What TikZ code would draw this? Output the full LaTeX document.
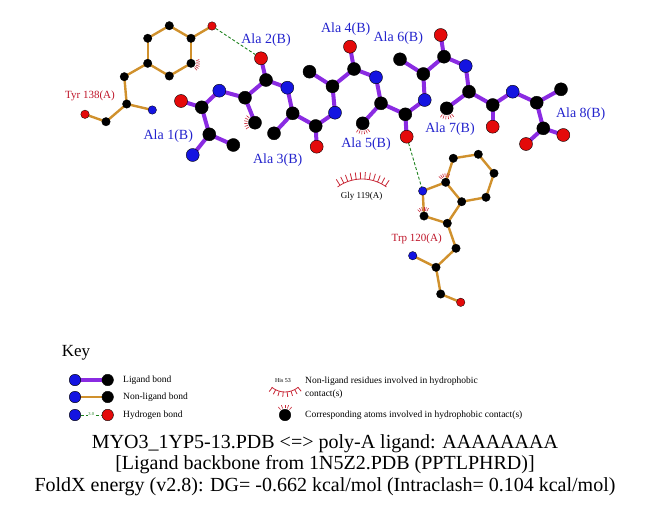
\documentclass[tikz,border=0pt]{standalone}
\usepackage{fontspec}
\setmainfont{Liberation Serif}
\pgfdeclarelayer{bonds}
\pgfsetlayers{bonds,main}
\definecolor{ligpurple}{RGB}{138,43,226}
\definecolor{nlorange}{RGB}{208,145,45}
\definecolor{atomblue}{RGB}{20,20,225}
\definecolor{atomred}{RGB}{228,10,10}
\definecolor{labblue}{RGB}{35,35,205}
\definecolor{labred}{RGB}{190,20,40}
\definecolor{spkred}{RGB}{200,40,55}
\definecolor{hbgreen}{RGB}{30,130,30}
\newcommand{\hydspk}[3]{\foreach \ang in {#2} \draw[spk] (#1.center) ++(\ang:#3) -- ++(\ang:3.5pt);}
\begin{document}
\begin{tikzpicture}[x=1pt,y=-1pt,
  lc/.style={circle,inner sep=0pt,minimum size=13pt,fill=black,draw=black,line width=0.4pt},
  ln/.style={lc,fill=atomblue},
  lo/.style={lc,fill=atomred},
  pc/.style={circle,inner sep=0pt,minimum size=8.5pt,fill=black,draw=black,line width=0.3pt},
  pn/.style={pc,fill=atomblue},
  po/.style={pc,fill=atomred},
  kc/.style={lc,minimum size=11.5pt},
  kn/.style={ln,minimum size=11.5pt},
  ko/.style={lo,minimum size=11.5pt},
  ligb/.style={line width=4pt,color=ligpurple},
  nlb/.style={line width=2.4pt,color=nlorange},
  hb/.style={dash pattern=on 3pt off 2pt,line width=0.9pt,color=hbgreen},
  alab/.style={text=labblue,font=\fontsize{14}{14}\selectfont,inner sep=0pt},
  rlab/.style={text=labred,font=\fontsize{11}{11}\selectfont,inner sep=0pt},
  glab/.style={text=black,font=\fontsize{9}{9}\selectfont,inner sep=0pt},
  keytxt/.style={font=\fontsize{9.5}{9.5}\selectfont,inner sep=0pt,anchor=west},
  bottxt/.style={font=\fontsize{20}{20}\selectfont,inner sep=0pt},
  spk/.style={color=spkred,line width=0.6pt}]
\useasboundingbox (0,0) rectangle (651,511);
% ---------------- ligand atoms
\node[lo] (a1O) at (181,101) {};
\node[lc] (a1C) at (201.7,107.3) {};
\node[lc] (a1CA) at (209.3,134.3) {};
\node[lc] (a1CB) at (233.3,145) {};
\node[ln] (a1N) at (192.7,155) {};
\node[ln] (a2N) at (219.3,90.7) {};
\node[lc] (a2CA) at (245,97.7) {};
\node[lc] (a2CB) at (255,122.7) {};
\node[lc] (a2C) at (266,80) {};
\node[lo] (a2O) at (261,58.3) {};
\node[ln] (a3N) at (287.3,87.7) {};
\node[lc] (a3CA) at (292.7,113.3) {};
\node[lc] (a3CB) at (274,133.3) {};
\node[lc] (a3C) at (315.7,126) {};
\node[lo] (a3O) at (316.7,146.7) {};
\node[ln] (a4N) at (335,112.7) {};
\node[lc] (a4CA) at (332.5,86.3) {};
\node[lc] (a4CB) at (309.5,71.7) {};
\node[lc] (a4C) at (354,69) {};
\node[lo] (a4O) at (350,46.7) {};
\node[ln] (a5N) at (376,77.3) {};
\node[lc] (a5CA) at (381,103.3) {};
\node[lc] (a5CB) at (362.7,123.3) {};
\node[lc] (a5C) at (405.3,114.3) {};
\node[lo] (a5O) at (406.7,136.7) {};
\node[ln] (a6N) at (424.7,100) {};
\node[lc] (a6CA) at (423.3,74) {};
\node[lc] (a6CB) at (400,59.3) {};
\node[lc] (a6C) at (444,56.7) {};
\node[lo] (a6O) at (440.7,35) {};
\node[ln] (a7N) at (465.7,66) {};
\node[lc] (a7CA) at (469,91.7) {};
\node[lc] (a7CB) at (446.7,108.3) {};
\node[lc] (a7C) at (492.7,105) {};
\node[lo] (a7O) at (492.7,126.7) {};
\node[ln] (a8N) at (512.7,91.7) {};
\node[lc] (a8CA) at (536.7,102.7) {};
\node[lc] (a8CB) at (561,89.3) {};
\node[lc] (a8C) at (543.3,128.3) {};
\node[lo] (a8Oa) at (526,144) {};
\node[lo] (a8Ob) at (563.3,135) {};
% ---------------- Tyr 138
\node[po] (tOH) at (212,26) {};
\node[pc] (tCZ) at (191,38.3) {};
\node[pc] (tE1) at (169.3,25.7) {};
\node[pc] (tD1) at (147.7,38.3) {};
\node[pc] (tG) at (147.7,63.3) {};
\node[pc] (tD2) at (169.3,76) {};
\node[pc] (tE2) at (191,63.3) {};
\node[pc] (tCB) at (124.3,76.7) {};
\node[pc] (tCA) at (126.7,104) {};
\node[pn] (tN) at (152.3,110) {};
\node[pc] (tC) at (106,121.7) {};
\node[po] (tO) at (85,114.3) {};
% ---------------- Trp 120
\node[pn] (wNE) at (422.7,191) {};
\node[pc] (wCD1) at (424,216) {};
\node[pc] (wCG) at (447.3,223.3) {};
\node[pc] (wCD2) at (461.7,201.7) {};
\node[pc] (wCE2) at (445.7,182.3) {};
\node[pc] (wCZ2) at (453.3,158.3) {};
\node[pc] (wCH2) at (478.3,154.3) {};
\node[pc] (wCZ3) at (494,173.3) {};
\node[pc] (wCE3) at (486,197.3) {};
\node[pc] (wCB) at (456,248.3) {};
\node[pc] (wCA) at (436,267.3) {};
\node[pn] (wN) at (412.7,255.7) {};
\node[pc] (wC) at (440.7,294) {};
\node[po] (wO) at (460.7,302.3) {};
% ---------------- bonds
\begin{pgfonlayer}{bonds}
\foreach \p/\q in {a1O/a1C,a1C/a1CA,a1CA/a1CB,a1CA/a1N,a1C/a2N,
  a2N/a2CA,a2CA/a2CB,a2CA/a2C,a2C/a2O,a2C/a3N,
  a3N/a3CA,a3CA/a3CB,a3CA/a3C,a3C/a3O,a3C/a4N,
  a4N/a4CA,a4CA/a4CB,a4CA/a4C,a4C/a4O,a4C/a5N,
  a5N/a5CA,a5CA/a5CB,a5CA/a5C,a5C/a5O,a5C/a6N,
  a6N/a6CA,a6CA/a6CB,a6CA/a6C,a6C/a6O,a6C/a7N,
  a7N/a7CA,a7CA/a7CB,a7CA/a7C,a7C/a7O,a7C/a8N,
  a8N/a8CA,a8CA/a8CB,a8CA/a8C,a8C/a8Oa,a8C/a8Ob}
  \draw[ligb] (\p.center) -- (\q.center);
\foreach \p/\q in {tOH/tCZ,tCZ/tE1,tE1/tD1,tD1/tG,tG/tD2,tD2/tE2,tE2/tCZ,
  tG/tCB,tCB/tCA,tCA/tN,tCA/tC,tC/tO,
  wN/wCA,wCA/wC,wC/wO,wCA/wCB,wCB/wCG,wCG/wCD1,wCD1/wNE,wNE/wCE2,
  wCE2/wCD2,wCD2/wCG,wCE2/wCZ2,wCZ2/wCH2,wCH2/wCZ3,wCZ3/wCE3,wCE3/wCD2}
  \draw[nlb] (\p.center) -- (\q.center);
\end{pgfonlayer}
% ---------------- hydrogen bonds
\draw[hb] (tOH) -- (a2O);
\draw[hb] (a5O) -- (wNE);
% ---------------- hydrophobic marks on atoms
\hydspk{tE2}{-50,-35,...,25}{5.5pt}
\hydspk{a2CB}{140,155,...,215}{7.5pt}
\hydspk{a5CB}{235,250,...,310}{7.5pt}
\hydspk{a7CB}{235,250,...,310}{7.5pt}
\hydspk{wCE2}{65,80,...,140}{5.5pt}
\hydspk{wCD1}{60,75,...,135}{5.5pt}
% ---------------- Gly 119 arc
\coordinate (gc) at (362,220.5);
\draw[spk,line width=0.8pt] (gc) ++(54:41.5pt) arc[start angle=54,end angle=126,radius=41.5pt];
\foreach \a in {56,62,...,124} \draw[spk,line width=0.8pt] (gc) ++(\a:41.5pt) -- ++(\a:7pt);
\node[glab] (gly) at (361.7,196) {Gly 119(A)};
% ---------------- labels
\node[alab] (l1) at (168.3,136) {Ala 1(B)};
\node[alab] (l2) at (266,40) {Ala 2(B)};
\node[alab] (l3) at (277.7,160) {Ala 3(B)};
\node[alab] (l4) at (345.7,29) {Ala 4(B)};
\node[alab] (l5) at (366,144.3) {Ala 5(B)};
\node[alab] (l6) at (398.3,38.3) {Ala 6(B)};
\node[alab] (l7) at (450,129) {Ala 7(B)};
\node[alab] (l8) at (580.7,114) {Ala 8(B)};
\node[rlab] (ltyr) at (90,96) {Tyr 138(A)};
\node[rlab] (ltrp) at (416.7,239) {Trp 120(A)};
% ---------------- key
\node[font=\fontsize{17}{17}\selectfont,inner sep=0pt] (key) at (76,353) {Key};
\node[kn] (k1a) at (75,380) {};
\node[kc] (k1b) at (107.7,380) {};
\node[kn] (k2a) at (75,397) {};
\node[kc] (k2b) at (107.7,397) {};
\node[kn] (k3a) at (75,415) {};
\node[ko] (k3b) at (107.7,415) {};
\begin{pgfonlayer}{bonds}
\draw[ligb] (k1a.center) -- (k1b.center);
\draw[nlb] (k2a.center) -- (k2b.center);
\end{pgfonlayer}
\draw[hb,line width=0.7pt] (k3a) -- (k3b);
\node[text=hbgreen,font=\fontsize{4.5}{4.5}\selectfont,fill=white,inner sep=0.3pt] (k3t) at (91.3,414.5) {3.0};
\node[keytxt] (kt1) at (123,380) {Ligand bond};
\node[keytxt] (kt2) at (123,397) {Non-ligand bond};
\node[keytxt] (kt3) at (123,415) {Hydrogen bond};
\node[font=\fontsize{6}{6}\selectfont,inner sep=0pt] (his) at (283,381) {His 53};
\coordinate (hc) at (285,371.3);
\draw[spk,line width=0.8pt] (hc) ++(230:20.7pt) arc[start angle=230,end angle=310,radius=20.7pt];
\foreach \a in {232,243,...,310} \draw[spk,line width=0.8pt] (hc) ++(\a:20.7pt) -- ++(\a:5pt);
\node[keytxt] (kt4) at (305,381) {Non-ligand residues involved in hydrophobic};
\node[keytxt] (kt5) at (305,394) {contact(s)};
\node[kc] (k4) at (285,415) {};
\hydspk{k4}{50,70,...,130}{7pt}
\node[keytxt] (kt6) at (305,415) {Corresponding atoms involved in hydrophobic contact(s)};
% ---------------- title lines
\node[bottxt] (t1) at (325,444) {MYO3\_1YP5-13.PDB <=> poly-A ligand: AAAAAAAA};
\node[bottxt] (t2) at (325,465) {[Ligand backbone from 1N5Z2.PDB (PPTLPHRD)]};
\node[bottxt] (t3) at (325,487) {FoldX energy (v2.8): DG= -0.662 kcal/mol (Intraclash= 0.104 kcal/mol)};
\end{tikzpicture}
\end{document}
